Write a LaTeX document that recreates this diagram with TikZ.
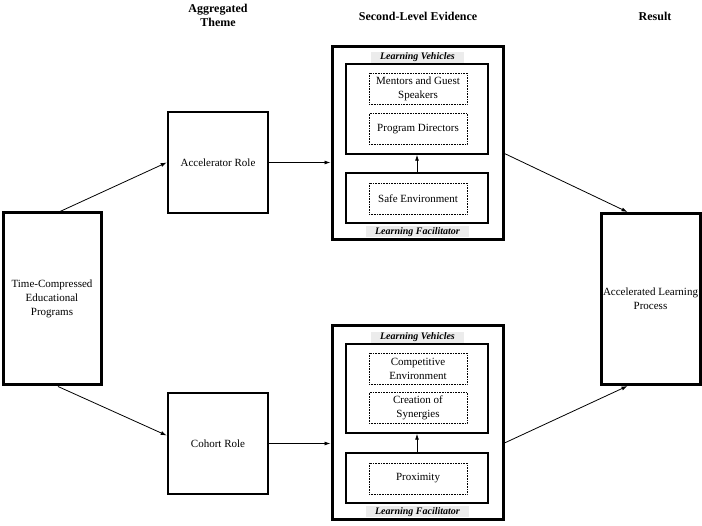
\documentclass[tikz,border=0pt]{standalone}
\usepackage{fontspec}
\setmainfont{Liberation Serif}
\usetikzlibrary{arrows.meta}

\tikzset{
  mainbox/.style={draw, line width=3pt, align=center, inner sep=1pt, font=\fontsize{11}{14}\selectfont},
  rolebox/.style={draw, line width=2.5pt, minimum width=100pt, minimum height=101pt, align=center, font=\fontsize{11}{14}\selectfont},
  groupbox/.style={draw, line width=3pt, minimum width=171pt},
  innerbox/.style={draw, line width=1.5pt, minimum width=142pt},
  itembox/.style={draw, densely dotted, line width=0.6pt, minimum width=98pt, minimum height=31pt, align=center, inner sep=1pt, font=\fontsize{11}{14}\selectfont},
  tag/.style={fill=gray!15, minimum height=11pt, inner ysep=0pt, inner xsep=9pt, font=\fontsize{10}{11}\selectfont\bfseries\itshape},
  header/.style={align=center, font=\fontsize{12}{13.5}\selectfont\bfseries},
  link/.style={-{Latex[length=6pt,width=4pt]}, line width=0.8pt},
}

\begin{document}
\begin{tikzpicture}[x=1pt,y=-1pt]
\useasboundingbox (0,0) rectangle (702,526);
% column headers
\node[header] (hdtheme) at (218,15.5) {Aggregated\\Theme};
\node[header] (hdevid) at (418,16) {Second-Level Evidence};
\node[header] (hdres) at (655,16) {Result};
% outer columns
\node[mainbox, minimum width=98pt, minimum height=172pt] (tcep) at (52,299) {Time-Compressed\\Educational\\Programs};
\node[mainbox, minimum width=99pt, minimum height=171pt] (alp) at (650.5,299) {Accelerated Learning\\Process};
% themes
\node[rolebox] (acc) at (218,162.5) {Accelerator Role};
\node[rolebox] (coh) at (218,443.5) {Cohort Role};
% evidence, accelerator
\node[groupbox, minimum height=193pt] (grpacc) at (417.5,143.5) {};
\node[tag] (vehacc) at (417.5,57.5) {Learning Vehicles};
\node[innerbox, minimum height=90pt] (vehboxacc) at (417,109) {};
\node[itembox] (mentors) at (418,88.5) {Mentors and Guest\\Speakers};
\node[itembox] (directors) at (418,129) {Program Directors};
\node[innerbox, minimum height=50pt] (facboxacc) at (417,198) {};
\node[itembox] (safe) at (418,198.5) {Safe Environment};
\node[tag] (facacc) at (417.5,232) {Learning Facilitator};
% evidence, cohort
\node[groupbox, minimum height=194pt] (grpcoh) at (417.5,423) {};
\node[tag] (vehcoh) at (417.5,337.5) {Learning Vehicles};
\node[innerbox, minimum height=89pt] (vehboxcoh) at (417,388.5) {};
\node[itembox] (competitive) at (418,368.5) {Competitive\\Environment};
\node[itembox] (synergies) at (418,408) {Creation of\\Synergies};
\node[innerbox, minimum height=50pt] (facboxcoh) at (417,478) {};
\node[itembox] (proximity) at (418,478.5) {Proximity};
\node[tag] (faccoh) at (417.5,512) {Learning Facilitator};
% connectors
\draw[link] ([xshift=8pt]tcep.north) -- (acc.west);
\draw[link] ([xshift=6pt]tcep.south) -- ([yshift=8pt]coh.west);
\draw[link] (acc.east) -- (acc.east -| grpacc.west);
\draw[link] (coh.east) -- (coh.east -| grpcoh.west);
\draw[link] ([yshift=-10pt]grpacc.east) -- ([xshift=-23pt]alp.north);
\draw[link] ([yshift=-20pt]grpcoh.east) -- ([xshift=-23pt]alp.south);
\draw[link] (facboxacc.north) -- (vehboxacc.south);
\draw[link] (facboxcoh.north) -- (vehboxcoh.south);
\end{tikzpicture}
\end{document}
